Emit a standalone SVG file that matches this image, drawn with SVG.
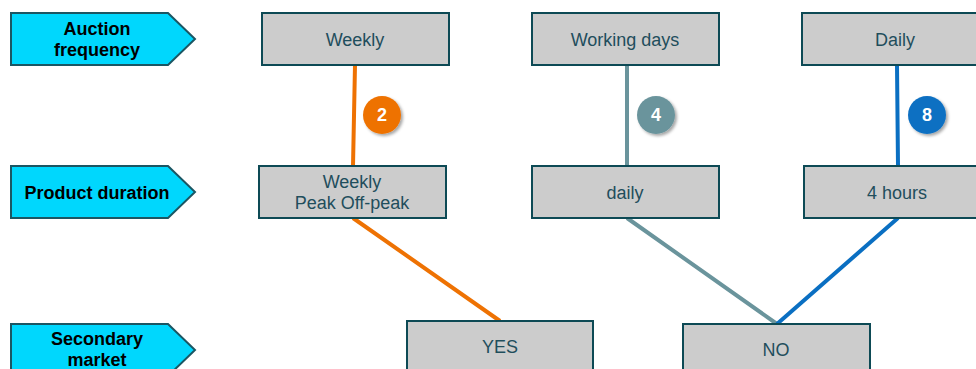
<svg xmlns="http://www.w3.org/2000/svg" width="976" height="369" viewBox="0 0 976 369">
<style>
.lbl{fill:#00D7FD;stroke:#1B5663;stroke-width:2}
.lt{font-family:"Liberation Sans",Arial,sans-serif;font-size:18px;font-weight:bold;fill:#000;text-anchor:middle}
.box{fill:#CCCCCC;stroke:#0D4A55;stroke-width:2}
.bt{font-family:"Liberation Sans",Arial,sans-serif;font-size:18px;fill:#1F4E5C;text-anchor:middle}
.con{fill:none;stroke-width:4}
.badge{font-family:"Liberation Sans",Arial,sans-serif;font-size:18px;font-weight:bold;fill:#fff;text-anchor:middle}
</style>
<defs>
<filter id="sh" x="-50%" y="-50%" width="200%" height="200%">
<feDropShadow dx="2" dy="2" stdDeviation="1.5" flood-color="#000" flood-opacity="0.35"/>
</filter>
</defs>
<g id="connectors">
<path class="con" stroke="#EE7203" d="M355 65 L353 166 M353 218 L500 321"/>
<path class="con" stroke="#6A949C" d="M627 65 L627 166 M627 218 L777 324"/>
<path class="con" stroke="#0A6FC2" d="M897 65 L898 166 M898 218 L777 324"/>
</g>
<g id="lbl-auction">
<polygon class="lbl" points="11,13 168,13 195,39 168,65 11,65"/>
<text class="lt" x="97" y="35">Auction</text>
<text class="lt" x="97" y="56">frequency</text>
</g>
<g id="lbl-product">
<polygon class="lbl" points="11,166 168,166 195,192 168,218 11,218"/>
<text class="lt" x="97" y="199">Product duration</text>
</g>
<g id="lbl-secondary">
<polygon class="lbl" points="11,324 168,324 195,350 168,376 11,376"/>
<text class="lt" x="97" y="345">Secondary</text>
<text class="lt" x="97" y="366">market</text>
</g>
<g id="n-weekly">
<rect class="box" x="262" y="13" width="187" height="52"/>
<text class="bt" x="355" y="46">Weekly</text>
</g>
<g id="n-workingdays">
<rect class="box" x="532" y="13" width="187" height="52"/>
<text class="bt" x="625" y="46">Working days</text>
</g>
<g id="n-daily-top">
<rect class="box" x="802" y="13" width="187" height="52"/>
<text class="bt" x="895" y="46">Daily</text>
</g>
<g id="n-weekly-peak">
<rect class="box" x="259" y="166" width="187" height="52"/>
<text class="bt" x="352" y="188">Weekly</text>
<text class="bt" x="352" y="209">Peak Off-peak</text>
</g>
<g id="n-daily">
<rect class="box" x="532" y="166" width="187" height="52"/>
<text class="bt" x="625" y="199">daily</text>
</g>
<g id="n-4hours">
<rect class="box" x="804" y="166" width="187" height="52"/>
<text class="bt" x="897" y="199">4 hours</text>
</g>
<g id="n-yes">
<rect class="box" x="407" y="321" width="186" height="60"/>
<text class="bt" x="500" y="353">YES</text>
</g>
<g id="n-no">
<rect class="box" x="683" y="324" width="187" height="60"/>
<text class="bt" x="776" y="356">NO</text>
</g>
<g id="badge-2">
<circle cx="382" cy="115" r="19" fill="#EE7203" filter="url(#sh)"/>
<text class="badge" x="382" y="121">2</text>
</g>
<g id="badge-4">
<circle cx="656" cy="115" r="19" fill="#6A949C" filter="url(#sh)"/>
<text class="badge" x="656" y="121">4</text>
</g>
<g id="badge-8">
<circle cx="927" cy="115" r="19" fill="#0A6FC2" filter="url(#sh)"/>
<text class="badge" x="927" y="121">8</text>
</g>
</svg>
